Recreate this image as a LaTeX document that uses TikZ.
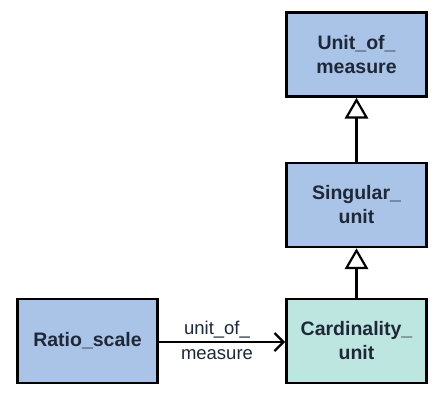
\documentclass[tikz,border=0pt]{standalone}
\usepackage{fontspec}
\setmainfont{Liberation Sans}
\usetikzlibrary{arrows.meta}
\definecolor{boxblue}{HTML}{AAC4E8}
\definecolor{boxteal}{HTML}{BEE6E1}
\definecolor{txt}{HTML}{1E2838}
\begin{document}
\begin{tikzpicture}[x=1pt,y=-1pt,
  cls/.style={draw=black, line width=2.6pt, minimum width=140pt, minimum height=84pt,
    inner sep=0pt, align=center, text=txt, font=\fontsize{19.5}{24}\selectfont\bfseries},
  gen/.style={line width=2.4pt, -{Triangle[open, fill=white, length=16pt, width=18pt, line width=2.2pt, scale=1.3]}},
  assoc/.style={line width=2.4pt, -{Straight Barb[length=9pt, width=18pt, line width=2.4pt]}},
  lbl/.style={text=txt, align=center, font=\fontsize{18.5}{25}\selectfont}]
\useasboundingbox (0,0) rectangle (440,400);
\fill[white] (0,0) rectangle (440,400);
\node[cls, fill=boxblue] (uom) at (356.5,54.5) {Unit\_of\_\\measure};
\node[cls, fill=boxblue] (sing) at (356.5,205) {Singular\_\\unit};
\node[cls, fill=boxteal] (card) at (356.5,341) {Cardinality\_\\unit};
\node[cls, fill=boxblue] (ratio) at (87.5,341) {Ratio\_scale};
\draw[gen] (sing.north) -- (uom.south);
\draw[gen] (card.north) -- (sing.south);
\draw[assoc] (ratio.east |- 0,342) coordinate (a1) -- (card.west |- a1);
\node[lbl] (lab) at (217,340) {unit\_of\_\\measure};
\end{tikzpicture}
\end{document}
